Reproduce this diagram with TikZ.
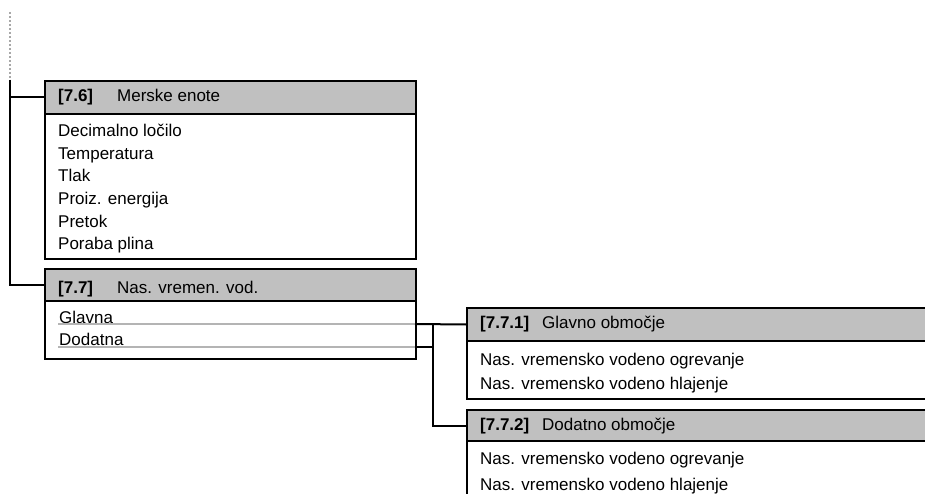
\documentclass[tikz,border=0pt]{standalone}
\usepackage{fontspec}
\setmainfont{Liberation Sans}
\definecolor{hdrgray}{HTML}{C0C0C0}
\definecolor{ulgray}{HTML}{B4B4B4}
\definecolor{dotgray}{HTML}{A8A8A8}
\begin{document}
\begin{tikzpicture}[x=1pt,y=-1pt,
  box/.style={draw=black,line width=2pt,anchor=north west,inner sep=0pt},
  hdr/.style={box,fill=hdrgray},
  conn/.style={draw=black,line width=2pt},
  txt/.style={anchor=base west,inner sep=0pt,font=\fontsize{17}{20}\selectfont},
  btxt/.style={anchor=base west,inner sep=0pt,font=\fontsize{17}{20}\selectfont\bfseries},
  uline/.style={draw=ulgray,line width=1.5pt},
  dots/.style={draw=dotgray,line width=2.2pt,dash pattern=on 2pt off 2pt}]
\useasboundingbox (0,0) rectangle (925,494);

% box 7.6
\node[box,minimum width=371pt,minimum height=178pt] (b76) at (44,80) {};
\node[hdr,minimum width=371pt,minimum height=33pt] (h76) at (44,80) {};
\node[btxt] (h76n) at (58,102) {[7.6]};
\node[txt] (h76t) at (117,102) {Merske enote};
\node[txt] (i761) at (58,137) {Decimalno ločilo};
\node[txt] (i762) at (58,159.5) {Temperatura};
\node[txt] (i763) at (58,182) {Tlak};
\node[txt] (i764) at (58,204.5) {Proiz. energija};
\node[txt] (i765) at (58,227) {Pretok};
\node[txt] (i766) at (58,249.5) {Poraba plina};

% box 7.7
\node[box,minimum width=371pt,minimum height=90pt] (b77) at (44,268) {};
\node[hdr,minimum width=371pt,minimum height=32pt] (h77) at (44,268) {};
\node[btxt] (h77n) at (58,293) {[7.7]};
\node[txt] (h77t) at (117,293) {Nas. vremen. vod.};
\node[txt] (i771) at (59,323) {Glavna};
\node[txt] (i772) at (59,345) {Dodatna};
\coordinate (gls) at (58,324);
\coordinate (gle) at (415,324);
\coordinate (dls) at (58,347);
\coordinate (dle) at (415,347);
\draw[uline] (gls) -- (gle);
\draw[uline] (dls) -- (dle);

% box 7.7.1
\node[box,minimum width=480pt,minimum height=91pt] (b771) at (466,307) {};
\node[hdr,minimum width=480pt,minimum height=33pt] (h771) at (466,307) {};
\node[btxt] (h771n) at (480,328) {[7.7.1]};
\node[txt] (h771t) at (542,328) {Glavno območje};
\node[txt] (i7711) at (480,365) {Nas. vremensko vodeno ogrevanje};
\node[txt] (i7712) at (480,389) {Nas. vremensko vodeno hlajenje};

% box 7.7.2
\node[box,minimum width=480pt,minimum height=110pt] (b772) at (466,409) {};
\node[hdr,minimum width=480pt,minimum height=31pt] (h772) at (466,409) {};
\node[btxt] (h772n) at (480,430) {[7.7.2]};
\node[txt] (h772t) at (542,430) {Dodatno območje};
\node[txt] (i7721) at (480,464) {Nas. vremensko vodeno ogrevanje};
\node[txt] (i7722) at (480,490) {Nas. vremensko vodeno hlajenje};

% connectors
\coordinate (top) at (10,12);
\coordinate (trunk) at (10,80);
\draw[dots] (top) -- (trunk);
\draw[conn] (trunk) |- (h76.west);
\draw[conn] (trunk) |- (h77.west);
\draw[conn] (gle) -- (h771.west);
\coordinate (jn) at (433,347);
\coordinate (jt) at (433,324);
\draw[conn] (dle) -- (jn);
\draw[conn] (jt) |- (h772.west);
\end{tikzpicture}
\end{document}
